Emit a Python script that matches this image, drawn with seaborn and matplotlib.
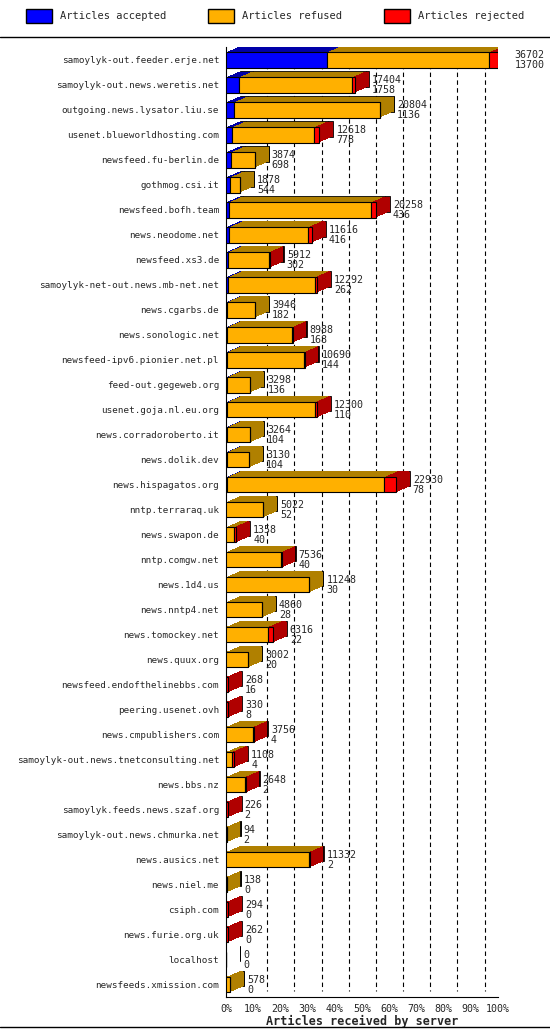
import matplotlib
matplotlib.use("Agg")
import matplotlib.pyplot as plt
import matplotlib.transforms as mtrans
from matplotlib.lines import Line2D
from matplotlib.patches import Patch
import numpy as np
import seaborn as sns

sns.set_theme(style="white")
plt.rcParams['font.family'] = ['DejaVu Sans Mono']

servers = ["samoylyk-out.feeder.erje.net","samoylyk-out.news.weretis.net","outgoing.news.lysator.liu.se",
"usenet.blueworldhosting.com","newsfeed.fu-berlin.de","gothmog.csi.it","newsfeed.bofh.team","news.neodome.net",
"newsfeed.xs3.de","samoylyk-net-out.news.mb-net.net","news.cgarbs.de","news.sonologic.net",
"newsfeed-ipv6.pionier.net.pl","feed-out.gegeweb.org","usenet.goja.nl.eu.org","news.corradoroberto.it",
"news.dolik.dev","news.hispagatos.org","nntp.terraraq.uk","news.swapon.de","nntp.comgw.net","news.1d4.us",
"news.nntp4.net","news.tomockey.net","news.quux.org","newsfeed.endofthelinebbs.com","peering.usenet.ovh",
"news.cmpublishers.com","samoylyk-out.news.tnetconsulting.net","news.bbs.nz","samoylyk.feeds.news.szaf.org",
"samoylyk-out.news.chmurka.net","news.ausics.net","news.niel.me","csiph.com","news.furie.org.uk","localhost",
"newsfeeds.xmission.com"]
total = [36702,17404,20804,12618,3874,1878,20258,11616,5912,12292,3946,8988,10690,3298,12300,3264,3130,22930,
5022,1358,7536,11248,4860,6316,3002,268,330,3756,1108,2648,226,94,11332,138,294,262,0,578]
accepted = [13700,1758,1136,778,698,544,436,416,302,262,182,168,144,136,110,104,104,78,52,40,40,30,28,22,20,
16,8,4,4,2,2,2,2,0,0,0,0,0]
rejected = [1200,400,0,800,0,0,650,600,100,300,100,100,100,50,300,50,50,1600,50,300,50,100,50,600,50,
252,322,50,300,50,224,0,100,0,294,262,0,0]
refused = [t - a - r for t, a, r in zip(total, accepted, rejected)]

colors = {"acc": ("#0000ff", "#0000a8"), "ref": ("#ffb000", "#b08000"), "rej": ("#ff0000", "#b00000")}

fig = plt.figure(figsize=(5.5, 10.3), dpi=100)
ax = fig.add_axes([0.411, 0.032, 0.494, 0.922])
n = len(servers)
y = np.arange(n)
mx = max(total)
h = 0.62
dxp, dyp = 14, 6

segs = [(accepted, "acc"), (refused, "ref"), (rejected, "rej")]
steps = 14
left = np.zeros(n)
for vals, key in segs:
    v = np.array(vals, float)
    for k in range(steps, 0, -1):
        off = mtrans.ScaledTranslation(dxp * k / steps / 100, dyp * k / steps / 100, fig.dpi_scale_trans)
        ax.barh(y, v, left=left, height=h, color=colors[key][1], transform=ax.transData + off,
                edgecolor="black" if k == steps else "none", linewidth=0.6, zorder=2)
    left += v
left = np.zeros(n)
for vals, key in segs:
    v = np.array(vals, float)
    ax.barh(y, v, left=left, height=h, color=colors[key][0], edgecolor="black", linewidth=0.8, zorder=3)
    left += v

back = ax.transData + mtrans.ScaledTranslation(dxp / 100, dyp / 100, fig.dpi_scale_trans)
for i in range(1, 11):
    ax.plot([mx * i / 10] * 2, [-0.5, n - 0.5], transform=back, color="black",
            ls=(0, (4, 3)) if i < 10 else "-", lw=0.8, zorder=1)

lab = ax.transData + mtrans.ScaledTranslation((dxp + 3) / 100, 0, fig.dpi_scale_trans)
for i in range(n):
    ax.text(total[i], y[i], f"{total[i]}\n{accepted[i]}", transform=lab, fontsize=7.2,
            va="center", ha="left", linespacing=1.0, zorder=5)

ax.set_ylim(n - 0.5, -0.5)
ax.set_xlim(0, mx)
ax.set_yticks(y)
ax.set_yticklabels(servers, fontsize=6.7)
ax.set_xticks([mx * i / 10 for i in range(11)])
ax.set_xticklabels([f"{i*10}%" for i in range(11)], fontsize=7.2)
ax.tick_params(axis="both", length=3, pad=2)
for s in ["top", "right"]:
    ax.spines[s].set_visible(False)
for s in ["left", "bottom"]:
    ax.spines[s].set_color("black")
    ax.spines[s].set_linewidth(0.8)
ax.set_xlabel("Articles received by server", fontsize=8.5, fontweight="bold", labelpad=1)

handles = [Patch(facecolor=colors[k][0], edgecolor="black", label=l) for k, l in
           [("acc", "Articles accepted"), ("ref", "Articles refused"), ("rej", "Articles rejected")]]
fig.legend(handles=handles, loc="upper center", ncol=3, frameon=False, fontsize=7.5,
           bbox_to_anchor=(0.5, 1.0), handlelength=2.5, handleheight=1.6, columnspacing=4)
fig.add_artist(Line2D([0, 1], [1 - 37 / 1030] * 2, color="black", lw=1))
fig.add_artist(Line2D([0, 1], [1 - 1027 / 1030] * 2, color="black", lw=1))
fig.savefig("out.png", dpi=100)
